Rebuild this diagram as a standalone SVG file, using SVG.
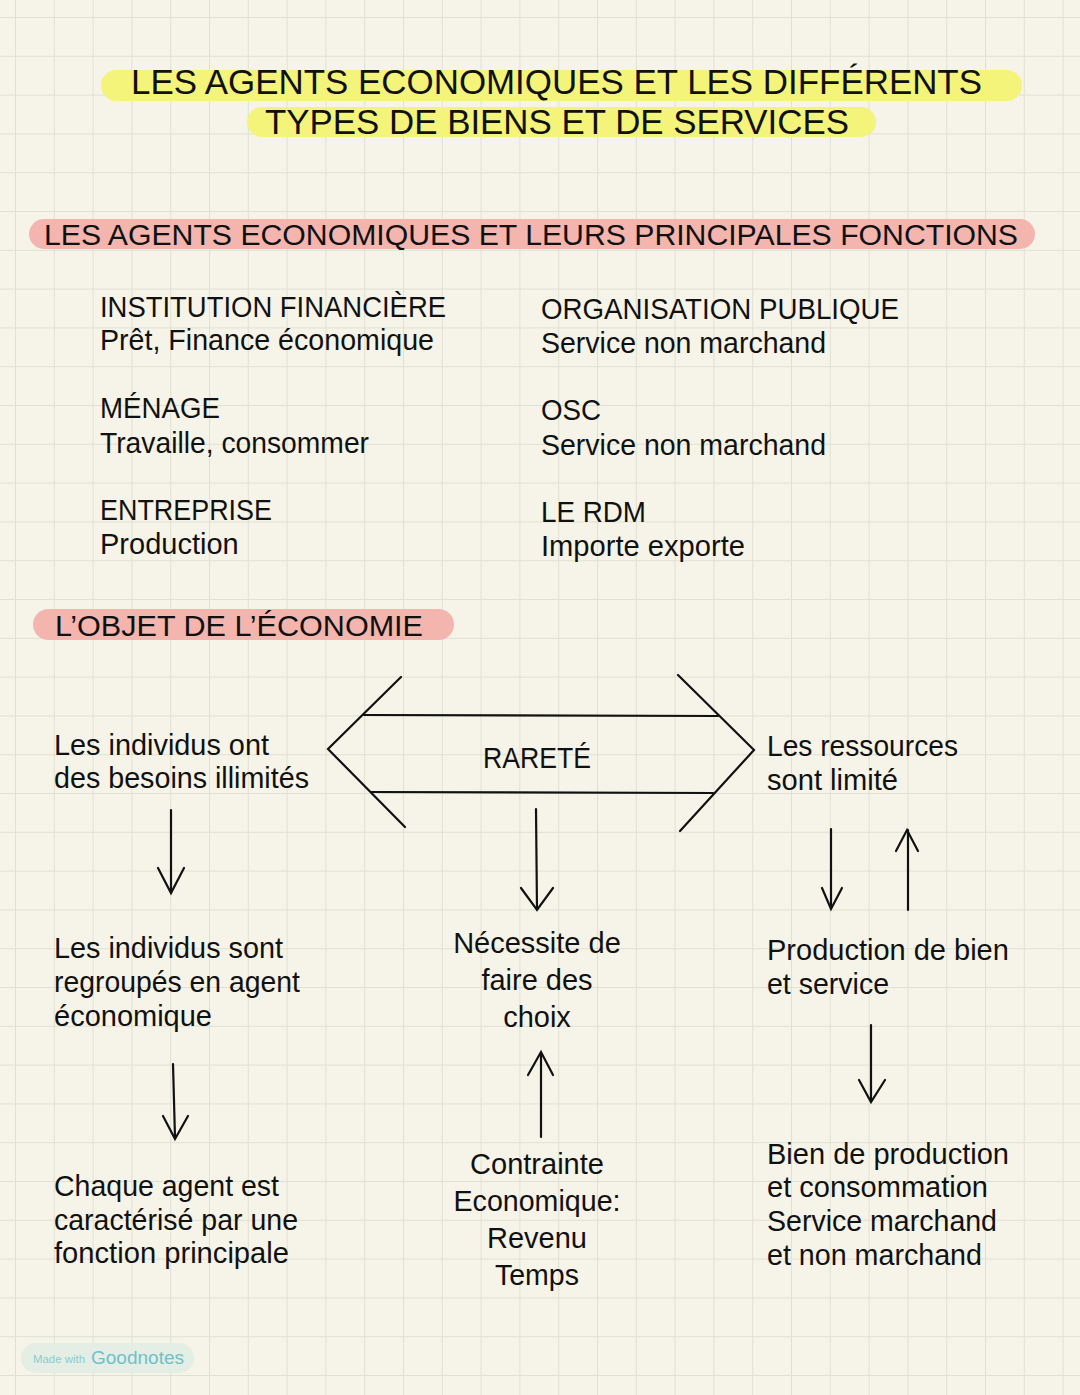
<svg xmlns="http://www.w3.org/2000/svg" width="1080" height="1395" viewBox="0 0 1080 1395">
<style>
text{font-family:"Liberation Sans",Arial,sans-serif;fill:#111;font-size:29px}
.t{font-size:35px}
.h{font-size:30.4px}
.m{text-anchor:middle}
.c line,.c polyline{stroke:#111;stroke-width:2.2;fill:none;stroke-linecap:round;stroke-linejoin:miter}
</style>
<defs>
<pattern id="grid" x="15" y="17" width="38.8" height="38.8" patternUnits="userSpaceOnUse">
<path d="M0 0V38.8M0 0H38.8" fill="none" stroke="#dfe1d1" stroke-width="2"/>
</pattern>
</defs>
<rect width="1080" height="1395" fill="#f6f4e8"/>
<rect width="1080" height="1395" fill="url(#grid)"/>
<g id="title">
<rect x="101" y="70" width="921" height="31" rx="15.5" fill="#f4f47a"/>
<rect x="247" y="107" width="629" height="30" rx="15" fill="#f4f47a"/>
<text class="t" x="131" y="94" textLength="851" lengthAdjust="spacingAndGlyphs">LES AGENTS ECONOMIQUES ET LES DIFFÉRENTS</text>
<text class="t" x="265" y="134" textLength="584" lengthAdjust="spacingAndGlyphs">TYPES DE BIENS ET DE SERVICES</text>
</g>
<g id="heading-agents">
<rect x="29" y="219" width="1006" height="30" rx="15" fill="#f3b5ae"/>
<text class="h" x="44" y="245" textLength="974" lengthAdjust="spacingAndGlyphs">LES AGENTS ECONOMIQUES ET LEURS PRINCIPALES FONCTIONS</text>
</g>
<g id="agent-institution"><text x="100" y="317" textLength="346" lengthAdjust="spacingAndGlyphs">INSTITUTION FINANCIÈRE</text><text x="100" y="350" textLength="334" lengthAdjust="spacingAndGlyphs">Prêt, Finance économique</text></g>
<g id="agent-menage"><text x="100" y="418" textLength="120" lengthAdjust="spacingAndGlyphs">MÉNAGE</text><text x="100" y="453" textLength="269" lengthAdjust="spacingAndGlyphs">Travaille, consommer</text></g>
<g id="agent-entreprise"><text x="100" y="520" textLength="172" lengthAdjust="spacingAndGlyphs">ENTREPRISE</text><text x="100" y="554">Production</text></g>
<g id="agent-organisation"><text x="541" y="319" textLength="358" lengthAdjust="spacingAndGlyphs">ORGANISATION PUBLIQUE</text><text x="541" y="353" textLength="285" lengthAdjust="spacingAndGlyphs">Service non marchand</text></g>
<g id="agent-osc"><text x="541" y="420" textLength="60" lengthAdjust="spacingAndGlyphs">OSC</text><text x="541" y="455" textLength="285" lengthAdjust="spacingAndGlyphs">Service non marchand</text></g>
<g id="agent-rdm"><text x="541" y="522" textLength="105" lengthAdjust="spacingAndGlyphs">LE RDM</text><text x="541" y="556" textLength="204" lengthAdjust="spacingAndGlyphs">Importe exporte</text></g>
<g id="heading-objet">
<rect x="33" y="609" width="421" height="31" rx="15.5" fill="#f3b5ae"/>
<text class="h" x="55" y="636" textLength="368" lengthAdjust="spacingAndGlyphs">L’OBJET DE L’ÉCONOMIE</text>
</g>
<g id="connectors" class="c">
<polyline points="401,677 328,749 405,827"/>
<polyline points="678,675 754,750 680,831"/>
<line x1="364" y1="715" x2="718" y2="716"/>
<line x1="371" y1="792" x2="713" y2="793"/>
<line x1="171" y1="810" x2="171" y2="892"/><polyline points="158,868 171,893 184,868"/>
<line x1="536" y1="809" x2="537" y2="909"/><polyline points="521,888 537,910 553,888"/>
<line x1="831" y1="829" x2="831" y2="908"/><polyline points="822,888 831,909 842,888"/>
<line x1="908" y1="910" x2="908" y2="830"/><polyline points="896,851 907,830 918,851"/>
<line x1="173" y1="1064" x2="175" y2="1138"/><polyline points="163,1116 175,1139 188,1116"/>
<line x1="541" y1="1137" x2="541" y2="1053"/><polyline points="528,1075 541,1052 553,1075"/>
<line x1="871" y1="1025" x2="871" y2="1101"/><polyline points="859,1080 871,1102 885,1080"/>
</g>
<g id="rarete"><text x="483" y="768" textLength="108" lengthAdjust="spacingAndGlyphs">RARETÉ</text></g>
<g id="besoins"><text x="54" y="755" textLength="215" lengthAdjust="spacingAndGlyphs">Les individus ont</text><text x="54" y="788" textLength="255" lengthAdjust="spacingAndGlyphs">des besoins illimités</text></g>
<g id="ressources"><text x="767" y="756" textLength="191" lengthAdjust="spacingAndGlyphs">Les ressources</text><text x="767" y="790" textLength="131" lengthAdjust="spacingAndGlyphs">sont limité</text></g>
<g id="regroupes"><text x="54" y="958" textLength="229" lengthAdjust="spacingAndGlyphs">Les individus sont</text><text x="54" y="992" textLength="246" lengthAdjust="spacingAndGlyphs">regroupés en agent</text><text x="54" y="1026">économique</text></g>
<g id="choix"><text class="m" x="537" y="953">Nécessite de</text><text class="m" x="537" y="990">faire des</text><text class="m" x="537" y="1027">choix</text></g>
<g id="production"><text x="767" y="960">Production de bien</text><text x="767" y="994" textLength="122" lengthAdjust="spacingAndGlyphs">et service</text></g>
<g id="caracterise"><text x="54" y="1196" textLength="225" lengthAdjust="spacingAndGlyphs">Chaque agent est</text><text x="54" y="1230" textLength="244" lengthAdjust="spacingAndGlyphs">caractérisé par une</text><text x="54" y="1263" textLength="235" lengthAdjust="spacingAndGlyphs">fonction principale</text></g>
<g id="contrainte"><text class="m" x="537" y="1174">Contrainte</text><text class="m" x="537" y="1211" textLength="167" lengthAdjust="spacingAndGlyphs">Economique:</text><text class="m" x="537" y="1248">Revenu</text><text class="m" x="537" y="1285" textLength="84" lengthAdjust="spacingAndGlyphs">Temps</text></g>
<g id="biens"><text x="767" y="1164" textLength="242" lengthAdjust="spacingAndGlyphs">Bien de production</text><text x="767" y="1197" textLength="221" lengthAdjust="spacingAndGlyphs">et consommation</text><text x="767" y="1231" textLength="230" lengthAdjust="spacingAndGlyphs">Service marchand</text><text x="767" y="1265" textLength="215" lengthAdjust="spacingAndGlyphs">et non marchand</text></g>
<g id="watermark">
<rect x="21" y="1343" width="173" height="30" rx="15" fill="#e4eee4"/>
<text x="33" y="1363" style="font-size:11px;fill:#8ccbd0" textLength="52" lengthAdjust="spacingAndGlyphs">Made with</text>
<text x="91" y="1364" style="font-size:19px;fill:#6fc0cb" textLength="93" lengthAdjust="spacingAndGlyphs">Goodnotes</text>
</g>
</svg>
